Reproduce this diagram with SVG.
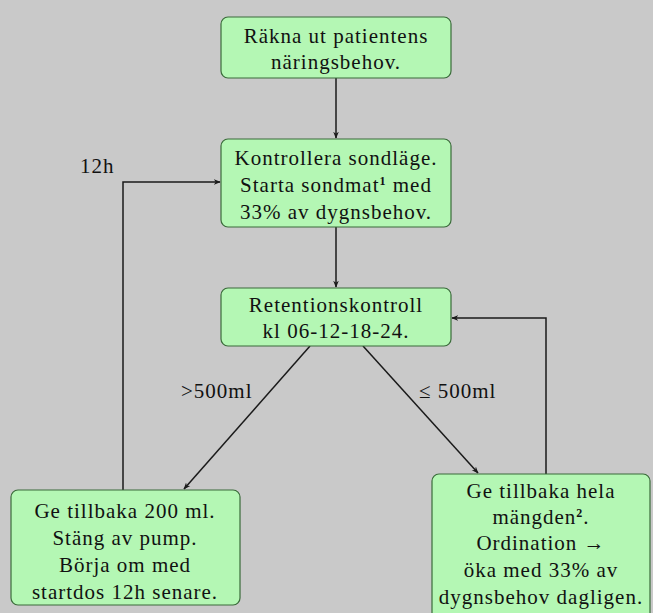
<svg xmlns="http://www.w3.org/2000/svg" width="653" height="613" viewBox="0 0 653 613" font-family="'Liberation Serif', 'DejaVu Serif', serif">
<defs>
<style>
.node rect{fill:#b4f7b4;stroke:#3a6b3a;stroke-width:1.2}
text{font-size:21px;letter-spacing:1px;fill:#111;text-anchor:middle}
.edge{stroke:#1a1a1a;stroke-width:1.5;fill:none;marker-end:url(#ah)}
.lbl{text-anchor:start}
.sup{font-size:12px;font-weight:bold}
</style>
<marker id="ah" viewBox="0 0 10 10" refX="9" refY="5" markerWidth="7" markerHeight="7" orient="auto" markerUnits="userSpaceOnUse">
<path d="M0,1 L10,5 L0,9 L3,5 Z" fill="#1a1a1a"/>
</marker>
</defs>
<rect width="653" height="613" fill="#c9c9c9"/>
<g id="connectors">
<line class="edge" x1="336" y1="78" x2="336" y2="138"/>
<line class="edge" x1="336" y1="227" x2="336" y2="287"/>
<line class="edge" x1="310" y1="346" x2="184" y2="489"/>
<line class="edge" x1="363" y1="346" x2="478" y2="473"/>
<polyline class="edge" points="123,490 123,182 220,182"/>
<polyline class="edge" points="546,474 546,318 452,318"/>
<text class="lbl" x="80" y="173">12h</text>
<text class="lbl" x="181" y="398">&gt;500ml</text>
<text class="lbl" x="419" y="398">≤ 500ml</text>
</g>
<g id="n1" class="node">
<rect x="221" y="17" width="230" height="61" rx="7"/>
<text x="336" y="43">Räkna ut patientens</text>
<text x="336" y="69">näringsbehov.</text>
</g>
<g id="n2" class="node">
<rect x="221" y="139" width="230" height="88" rx="7"/>
<text x="336" y="165">Kontrollera sondläge.</text>
<text x="336" y="192">Starta sondmat<tspan class="sup" dy="-7">1</tspan><tspan dy="7"> med</tspan></text>
<text x="336" y="219">33% av dygnsbehov.</text>
</g>
<g id="n3" class="node">
<rect x="221" y="288" width="230" height="58" rx="7"/>
<text x="336" y="312">Retentionskontroll</text>
<text x="336" y="338">kl 06-12-18-24.</text>
</g>
<g id="n4" class="node">
<rect x="11" y="490" width="229" height="115" rx="7"/>
<text x="125" y="518">Ge tillbaka 200 ml.</text>
<text x="125" y="545">Stäng av pump.</text>
<text x="125" y="572">Börja om med</text>
<text x="125" y="599">startdos 12h senare.</text>
</g>
<g id="n5" class="node">
<rect x="432" y="474" width="218" height="150" rx="7"/>
<text x="541" y="498">Ge tillbaka hela</text>
<text x="541" y="524">mängden<tspan class="sup" dy="-7">2</tspan><tspan dy="7">.</tspan></text>
<text x="541" y="550">Ordination →</text>
<text x="541" y="577">öka med 33% av</text>
<text x="541" y="604">dygnsbehov dagligen.</text>
</g>
</svg>
